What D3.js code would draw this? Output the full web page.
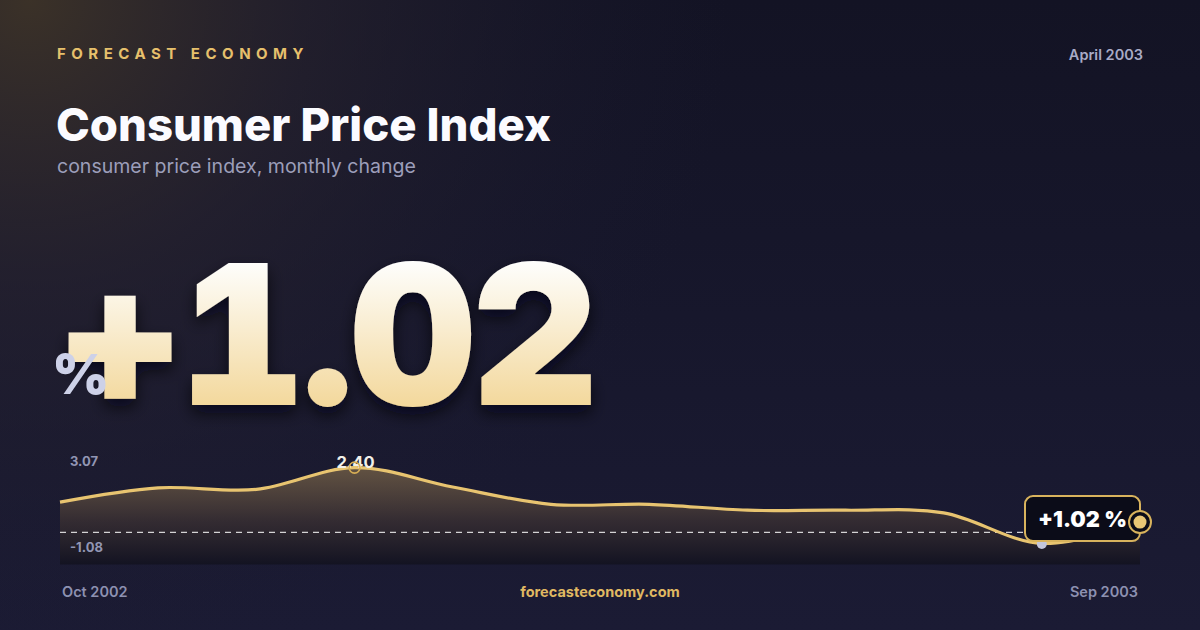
<!DOCTYPE html>
<html><head><meta charset="utf-8">
<script src="https://cdn.jsdelivr.net/npm/d3@7"></script>
<style>html,body{margin:0;padding:0;background:#15152a;}svg{display:block;}</style>
</head><body>
<svg id="c" width="1200" height="630"></svg>
<script>
// ---- data ----
const months = ["Oct 2002","Nov 2002","Dec 2002","Jan 2003","Feb 2003","Mar 2003","Apr 2003","May 2003","Jun 2003","Jul 2003","Aug 2003","Sep 2003"];
const values = [1.12, 1.65, 1.59, 2.40, 1.68, 1.04, 1.04, 0.82, 0.82, 0.72, -0.41, 0.38];
const yDomainLabels = [-1.08, 3.07];
const headlineValue = 1.02;
const brand = "FORECAST ECONOMY";
const dateLabel = "April 2003";
const title = "Consumer Price Index";
const subtitle = "consumer price index, monthly change";
const site = "forecasteconomy.com";

const svg = d3.select("#c");
const defs = svg.append("defs");
const F = "Inter, 'Noto Sans', sans-serif";
const fmt = v => v.toFixed(2);

// background
const bg = defs.append("linearGradient").attr("id","bg").attr("x1",0).attr("y1",0).attr("x2",0).attr("y2",1);
bg.append("stop").attr("offset","0%").attr("stop-color","#131324");
bg.append("stop").attr("offset","100%").attr("stop-color","#1b1b34");
const glow = defs.append("radialGradient").attr("id","glow").attr("gradientUnits","userSpaceOnUse")
  .attr("cx",30).attr("cy",0).attr("r",700);
glow.append("stop").attr("offset","0%").attr("stop-color","#3d3328").attr("stop-opacity",0.95);
glow.append("stop").attr("offset","40%").attr("stop-color","#2a2530").attr("stop-opacity",0.6);
glow.append("stop").attr("offset","100%").attr("stop-color","#1a1a30").attr("stop-opacity",0);
svg.append("rect").attr("width",1200).attr("height",630).attr("fill","url(#bg)");
svg.append("rect").attr("width",1200).attr("height",630).attr("fill","url(#glow)");

function fitWidth(sel, w){
  const cur = +sel.attr("font-size");
  const bw = sel.node().getBBox().width;
  sel.attr("font-size", cur * w / bw);
}

// header
svg.append("text").attr("x",57).attr("y",59).attr("font-family",F).attr("font-weight",700)
  .attr("font-size",15).attr("letter-spacing","5.5px").attr("fill","#e6c06c").text(brand);
svg.append("text").attr("x",1143).attr("y",60).attr("text-anchor","end").attr("font-family",F).attr("font-weight",600)
  .attr("font-size",14.5).attr("fill","#a9abc6").text(dateLabel);
const t = svg.append("text").attr("x",56).attr("y",141).attr("font-family",F).attr("font-weight",800)
  .attr("font-size",44).attr("fill","#fbfbff").text(title);
fitWidth(t, 495);
const s = svg.append("text").attr("x",57).attr("y",173).attr("font-family",F).attr("font-weight",400)
  .attr("font-size",18.5).attr("fill","#9c9eba").text(subtitle);
fitWidth(s, 359);

// big number
const bigG = defs.append("linearGradient").attr("id","bigG").attr("gradientUnits","userSpaceOnUse")
  .attr("x1",0).attr("y1",262).attr("x2",0).attr("y2",406);
bigG.append("stop").attr("offset","0%").attr("stop-color","#fefefc");
bigG.append("stop").attr("offset","100%").attr("stop-color","#f3d89c");
const sh = defs.append("filter").attr("id","sh").attr("x","-10%").attr("y","-10%").attr("width","130%").attr("height","140%");
sh.append("feDropShadow").attr("dx",0).attr("dy",8).attr("stdDeviation",8).attr("flood-color","#05050c").attr("flood-opacity",0.7);
const bigTxt = (headlineValue>=0?"+":"") + fmt(headlineValue);
const big = svg.append("text").attr("x",57).attr("y",405).attr("font-family",F).attr("font-weight",900)
  .attr("font-size",196).attr("letter-spacing","-4px").attr("fill","url(#bigG)").attr("filter","url(#sh)")
  .style("font-variant-numeric","tabular-nums").style("font-feature-settings","'tnum' 1").text(bigTxt);
fitWidth(big, 537);
svg.append("text").attr("x",52).attr("y",394).attr("font-family",F).attr("font-weight",900)
  .attr("font-size",55).attr("fill","#cdd1e8").text("%");

// chart
const x = d3.scalePoint().domain(months).range([60,1140]);
const y = d3.scaleLinear().domain(yDomainLabels).range([561.5,449.5]);
const bottom = 564.5;
const curve = d3.curveCardinal.tension(0);

const ag = defs.append("linearGradient").attr("id","ag").attr("gradientUnits","userSpaceOnUse")
  .attr("x1",0).attr("y1",y(d3.max(values))).attr("x2",0).attr("y2",bottom);
ag.append("stop").attr("offset","0%").attr("stop-color","#7a6548").attr("stop-opacity",0.75);
ag.append("stop").attr("offset","55%").attr("stop-color","#3a3032").attr("stop-opacity",0.8);
ag.append("stop").attr("offset","100%").attr("stop-color","#121220").attr("stop-opacity",0.9);

const area = d3.area().x((d,i)=>x(months[i])).y0(bottom).y1(d=>y(d)).curve(curve);
const line = d3.line().x((d,i)=>x(months[i])).y(d=>y(d)).curve(curve);
svg.append("path").datum(values).attr("d",area).attr("fill","url(#ag)");
svg.append("line").attr("x1",60).attr("x2",1140).attr("y1",y(0)).attr("y2",y(0))
  .attr("stroke","#ffffff").attr("stroke-opacity",0.8).attr("stroke-width",1.3).attr("stroke-dasharray","6 5");
svg.append("path").datum(values).attr("d",line).attr("fill","none").attr("stroke","#e8c470").attr("stroke-width",3.2);

// range labels
svg.append("text").attr("x",70).attr("y",466).attr("font-family",F).attr("font-weight",700).attr("font-size",13)
  .attr("fill","#9296b4").text(fmt(yDomainLabels[1]));
svg.append("text").attr("x",70).attr("y",552).attr("font-family",F).attr("font-weight",700).attr("font-size",13)
  .attr("fill","#9296b4").text(fmt(yDomainLabels[0]));

// max
const iMax = d3.maxIndex(values), iMin = d3.minIndex(values);
svg.append("text").attr("x",x(months[iMax])+1).attr("y",468).attr("text-anchor","middle").attr("font-family",F)
  .attr("font-weight",700).attr("font-size",16.5).attr("fill","#f2f0ea").text(fmt(values[iMax]));
svg.append("circle").attr("cx",x(months[iMax])).attr("cy",y(values[iMax])).attr("r",5.5)
  .attr("fill","none").attr("stroke","#d6ad55").attr("stroke-width",1.6);
// min
svg.append("circle").attr("cx",x(months[iMin])).attr("cy",y(values[iMin])+0.5).attr("r",5).attr("fill","#c3c6dc");

// tooltip
const last = values.length-1;
const lx = x(months[last]), ly = y(values[last]);
svg.append("rect").attr("x",lx-115).attr("y",ly-26).attr("width",115).attr("height",45).attr("rx",8)
  .attr("fill","#0b0c18").attr("stroke","#d8b35d").attr("stroke-width",2);
const tt = svg.append("text").attr("x",lx-102).attr("y",ly+4.5).attr("font-family",F).attr("font-weight",900).attr("font-size",20)
  .attr("fill","#ffffff").text(bigTxt + " %");
fitWidth(tt, 89);
svg.append("circle").attr("cx",lx).attr("cy",ly).attr("r",11).attr("fill","#0b0c18").attr("stroke","#d8b35d").attr("stroke-width",2);
svg.append("circle").attr("cx",lx).attr("cy",ly).attr("r",6.5).attr("fill","#e9c775");

// footer
svg.append("text").attr("x",62).attr("y",597).attr("font-family",F).attr("font-weight",600).attr("font-size",14.5)
  .attr("fill","#8d91b1").text(months[0]);
svg.append("text").attr("x",1138).attr("y",597).attr("text-anchor","end").attr("font-family",F).attr("font-weight",600)
  .attr("font-size",14.5).attr("fill","#8d91b1").text(months[last]);
svg.append("text").attr("x",600).attr("y",597).attr("text-anchor","middle").attr("font-family",F).attr("font-weight",700)
  .attr("font-size",14.5).attr("fill","#e0b962").text(site);
</script>
</body></html>
